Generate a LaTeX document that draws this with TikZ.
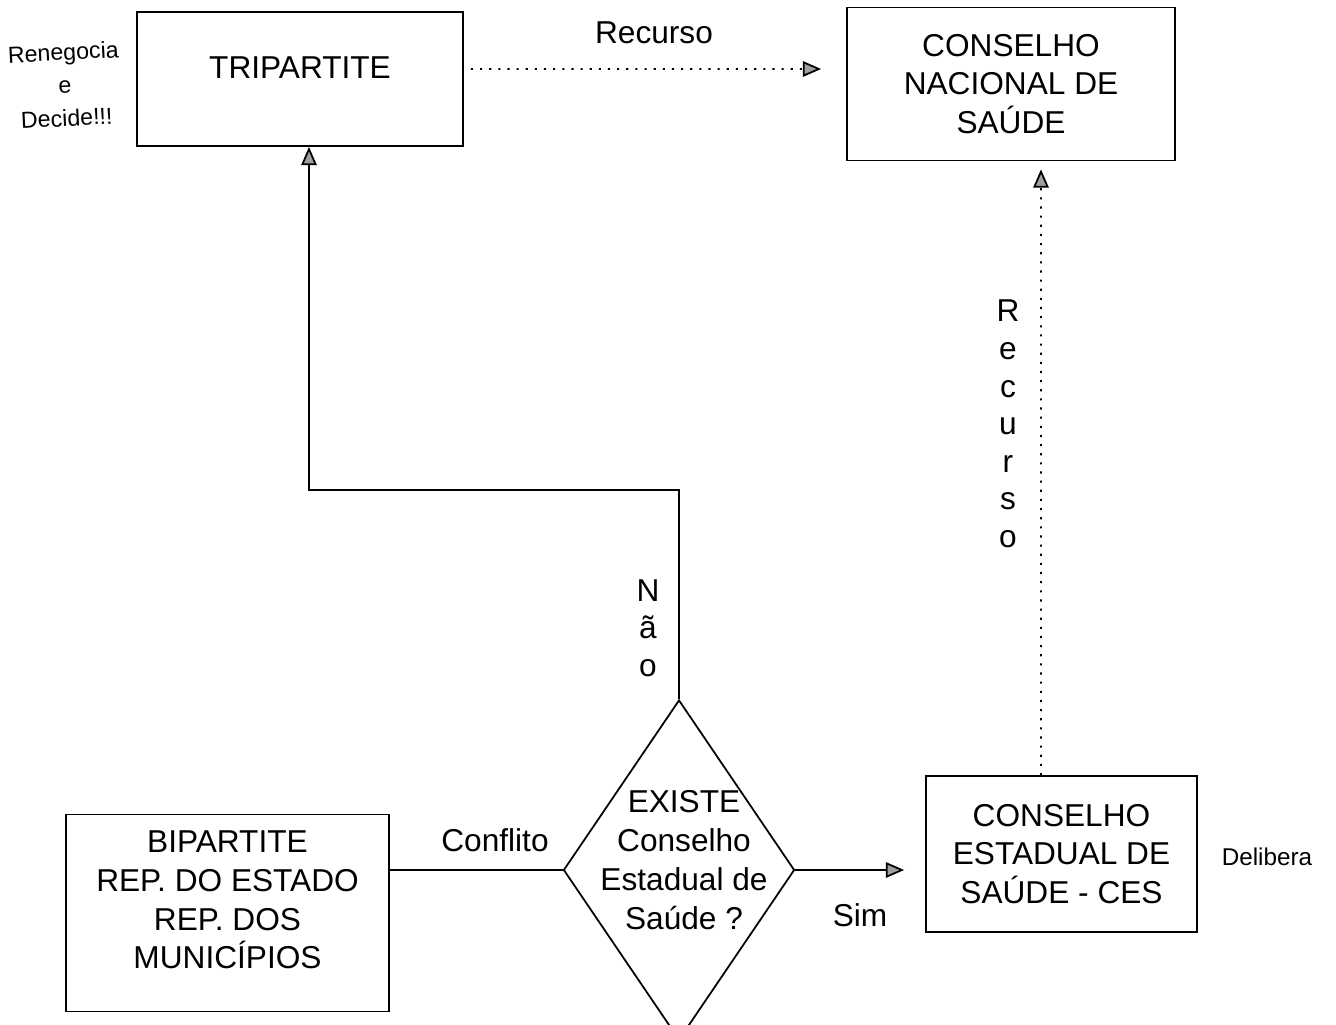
\documentclass[tikz,border=0pt]{standalone}
\usepackage{fontspec}
\setmainfont{Liberation Sans}
\usetikzlibrary{arrows.meta,positioning,shapes.geometric}

\begin{document}
\begin{tikzpicture}[
  box/.style={draw,line width=0.5pt,align=center,inner sep=2pt,font=\fontsize{9}{11}\selectfont},
  lbl/.style={align=center,inner sep=1pt,font=\fontsize{9}{10.7}\selectfont},
  small/.style={align=center,inner sep=1pt,font=\fontsize{6.6}{9.4}\selectfont},
  arr/.style={-{Triangle[length=5.2pt,width=4.4pt,fill=gray!75]},line width=0.5pt},
  dotarr/.style={arr,dash pattern=on 0.6pt off 2pt}
]
\useasboundingbox (0,0) rectangle (13.36,10.24);
\fill[white] (0,0) rectangle (13.36,10.24);
\clip (0,0) rectangle (13.36,10.24);

% boxes
\node[box, minimum width=3.26cm, minimum height=1.34cm, text depth=0.22cm] (trip) at (3.00,9.45) {TRIPARTITE};
\node[box, minimum width=3.28cm, minimum height=1.53cm] (cns) at (10.11,9.40) {CONSELHO\\NACIONAL DE\\SAÚDE};
\node[box, minimum width=3.23cm, minimum height=1.97cm, text depth=0.26cm] (bip) at (2.275,1.11) {BIPARTITE\\REP. DO ESTADO\\REP. DOS\\MUNICÍPIOS};
\node[box, minimum width=2.71cm, minimum height=1.56cm] (ces) at (10.615,1.70) {CONSELHO\\ESTADUAL DE\\SAÚDE - CES};

% decision
\node[draw, line width=0.5pt, diamond, inner sep=0pt, minimum width=2.31cm, minimum height=3.40cm] (dia) at (6.79,1.54) {};
\node[lbl, font=\fontsize{9}{11.1}\selectfont] (diatext) at (6.84,1.64) {EXISTE\\Conselho\\Estadual de\\Saúde ?};

% side texts
\node[small, rotate=3] (renego) at (0.65,9.39) {Renegocia\\e\\Decide!!!};
\node[small, font=\fontsize{6.9}{9}\selectfont] (delib) at (12.67,1.67) {Delibera};

% connectors
\coordinate (naobend) at (6.79,5.34);
\draw[arr] (dia.north) -- (naobend) -| ([xshift=0.9mm]trip.south);
\draw[line width=0.5pt] (dia.west -| bip.east) -- (dia.west);
\draw[arr, shorten >=0.21cm] (dia.east) -- (dia.east -| ces.west);
\draw[dotarr, shorten >=0.25cm] ([xshift=0.7mm,yshift=1mm]trip.east) -- ([yshift=1.5mm]cns.west);
\draw[dotarr, shorten >=0.08cm] ([xshift=-2.05mm]ces.north) -- ([xshift=3mm]cns.south);

% connector labels
\node[lbl] (recursoh) at (6.54,9.91) {Recurso};
\node[lbl] (conflito) at (4.95,1.84) {Conflito};
\node[lbl] (sim) at (8.60,1.09) {Sim};
\node[lbl] (nao) at (6.48,3.96) {N\\ã\\o};
\node[lbl] (recursov) at (10.08,6.00) {R\\e\\c\\u\\r\\s\\o};
\end{tikzpicture}
\end{document}
